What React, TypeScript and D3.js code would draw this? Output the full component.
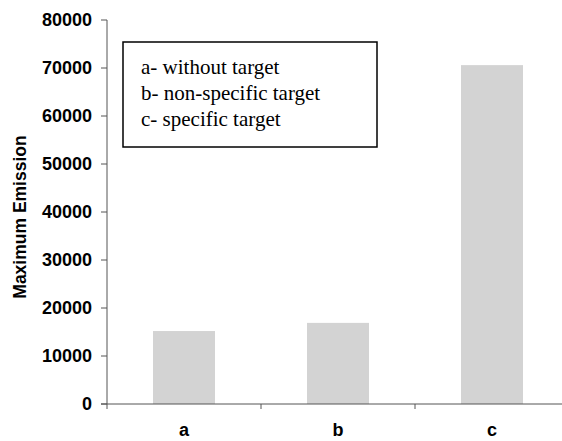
import React from "react";
import * as d3 from "d3";

const categories = ["a", "b", "c"];
const values = [15200, 16900, 70600];
const yTicks = [0, 10000, 20000, 30000, 40000, 50000, 60000, 70000, 80000];
const legendLines = ["a- without target", "b- non-specific target", "c- specific target"];
const yTitle = "Maximum Emission";

export default function App() {
  const W = 562, H = 441;
  const x0 = 107, y0 = 404, yTop = 20;
  const band = 154;
  const x = d3.scaleBand<string>().domain(categories).range([x0, x0 + band * 3]).paddingInner(0).paddingOuter(0);
  const y = d3.scaleLinear().domain([0, 80000]).range([y0, yTop]);
  const bw = 62;
  const sans = "Liberation Sans, Arial, sans-serif";
  const serif = "'Liberation Serif', 'Times New Roman', Times, 'DejaVu Serif', serif";
  return (
    <svg width={W} height={H} style={{ position: "absolute", left: 0, top: 0, background: "#fff" }}>
      {categories.map((c, i) => {
        const cx = (x(c) as number) + x.bandwidth() / 2;
        return (
          <rect key={c} x={cx - bw / 2} y={y(values[i])} width={bw} height={y0 - y(values[i])} fill="#d3d3d3" />
        );
      })}
      {/* y axis */}
      <line x1={x0} x2={x0} y1={yTop} y2={y0 + 5} stroke="#555" strokeWidth={1} />
      {yTicks.map((t) => (
        <g key={t}>
          <line x1={x0 - 6} x2={x0} y1={y(t)} y2={y(t)} stroke="#555" />
          <text x={92} y={y(t)} dy="0.36em" textAnchor="end" fontFamily={sans} fontWeight="bold" fontSize={18} fill="#000">
            {t}
          </text>
        </g>
      ))}
      {/* x axis */}
      <line x1={x0 - 6} x2={W} y1={y0} y2={y0} stroke="#555" />
      {categories.map((c) => (
        <line key={"t" + c} x1={(x(c) as number) + band} x2={(x(c) as number) + band} y1={y0} y2={y0 + 5} stroke="#555" />
      ))}
      {categories.map((c) => (
        <text key={"l" + c} x={(x(c) as number) + x.bandwidth() / 2} y={436} textAnchor="middle" fontFamily={sans} fontWeight="bold" fontSize={18} fill="#000">
          {c}
        </text>
      ))}
      <text transform={`translate(26,${(y0 + yTop) / 2 + 5}) rotate(-90)`} textAnchor="middle" fontFamily={sans} fontWeight="bold" fontSize={17.5} fill="#000">
        {yTitle}
      </text>
      {/* legend */}
      <rect x={123} y={42} width={254} height={105} fill="#fff" stroke="#000" strokeWidth={1.5} />
      {legendLines.map((l, i) => (
        <text key={l} x={141} y={74 + i * 26} style={{ fontFamily: serif, fontSize: "21px" }} fill="#000">
          {l}
        </text>
      ))}
    </svg>
  );
}
